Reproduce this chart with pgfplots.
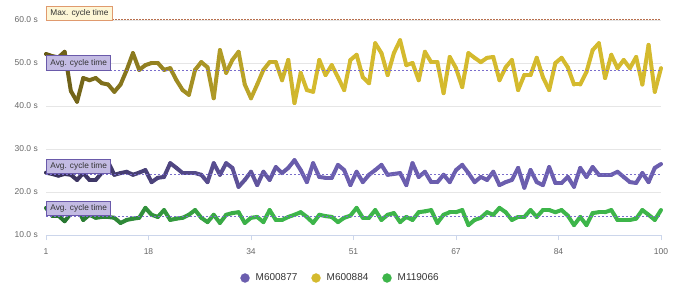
\documentclass[border=0pt]{standalone}
\usepackage{fontspec}
\setmainfont{Liberation Sans}
\usepackage{pgfplots}
\usepackage{pgfplotstable}
\pgfplotsset{compat=1.18}
\definecolor{pcol}{HTML}{6B5EAE}
\definecolor{ycol}{HTML}{D4BA2E}
\definecolor{gcol}{HTML}{3DB54A}
\definecolor{gridc}{HTML}{E6E6E6}
\definecolor{axisc}{HTML}{CCD6EB}
\definecolor{labc}{HTML}{666666}
\definecolor{txtc}{HTML}{333333}
\definecolor{avgline}{HTML}{7A6DCB}
\definecolor{maxline}{HTML}{B8704F}
\definecolor{avgfill}{HTML}{C3BBE3}
\definecolor{avgborder}{HTML}{6A5AAA}
\definecolor{maxfill}{HTML}{FDF6D6}
\definecolor{maxborder}{HTML}{E09A6E}
\pgfplotsset{
  colormap={pmap}{color(0cm)=(pcol!50!black) color(4.2cm)=(pcol) color(10cm)=(pcol)},
  colormap={ymap}{color(0cm)=(ycol!48!black) color(4.2cm)=(ycol) color(10cm)=(ycol)},
  colormap={gmap}{color(0cm)=(gcol!62!black) color(3.5cm)=(gcol) color(10cm)=(gcol)},
}
\pgfplotstableread{
idx p y g
1 24.5 52.1 16.3
2 24.2 51.6 14.5
3 23.8 51.3 14.5
4 24.2 52.6 13.2
5 24.0 43.5 15.0
6 22.8 41.0 16.3
7 24.4 46.5 13.5
8 22.8 46.0 14.7
9 22.8 46.5 14.0
10 24.5 45.3 14.2
11 27.0 45.0 14.2
12 24.0 43.3 14.0
13 24.4 45.0 12.8
14 24.7 48.4 13.5
15 24.0 52.3 13.8
16 24.5 48.4 14.0
17 25.1 49.5 16.3
18 22.3 50.0 14.7
19 23.3 50.0 14.2
20 23.5 48.4 15.8
21 26.7 48.8 13.5
22 25.6 46.0 13.8
23 24.4 43.7 14.0
24 24.4 42.6 14.7
25 24.4 48.4 15.8
26 24.0 50.2 14.0
27 22.3 49.0 13.0
28 26.7 41.8 14.7
29 24.0 53.0 12.8
30 26.7 47.7 14.7
31 25.6 50.7 15.1
32 21.2 52.6 15.3
33 22.8 45.0 12.8
34 24.7 41.8 14.0
35 21.6 45.0 14.2
36 24.7 48.4 13.0
37 22.8 50.2 15.8
38 25.8 50.2 13.5
39 24.4 46.0 13.5
40 25.6 50.7 14.2
41 27.4 40.7 14.7
42 25.1 47.7 15.3
43 22.3 43.7 14.2
44 26.7 43.3 12.8
45 23.5 50.7 14.7
46 23.3 47.2 14.4
47 23.3 49.5 14.2
48 26.3 46.7 13.0
49 25.1 43.7 14.0
50 21.6 50.7 14.5
51 24.7 51.9 16.3
52 22.3 46.7 14.0
53 24.0 45.3 14.0
54 25.1 54.6 15.8
55 26.3 52.3 13.5
56 24.0 47.2 14.7
57 24.2 52.3 15.1
58 24.4 55.3 13.0
59 21.6 49.5 14.2
60 26.7 50.0 13.5
61 23.5 46.0 15.3
62 24.7 52.6 15.5
63 22.3 50.2 15.8
64 22.3 50.2 12.8
65 24.0 43.0 14.7
66 22.3 51.4 15.3
67 25.1 48.8 15.3
68 26.3 44.4 15.8
69 24.4 52.3 12.3
70 22.3 51.2 13.5
71 23.5 50.2 14.0
72 22.8 51.2 15.3
73 24.7 51.4 14.7
74 21.6 46.0 16.3
75 22.3 49.0 15.3
76 22.8 50.7 13.5
77 25.6 43.7 14.2
78 21.0 47.2 14.2
79 25.1 47.2 15.8
80 22.3 51.2 14.2
81 21.6 46.7 15.8
82 25.8 43.7 15.8
83 22.1 50.0 15.3
84 22.1 51.2 15.8
85 23.5 49.0 14.5
86 21.2 45.0 12.3
87 25.6 45.0 14.2
88 23.5 47.9 12.3
89 25.8 53.0 15.1
90 24.0 54.6 15.3
91 24.0 46.5 15.3
92 24.0 51.9 15.8
93 24.7 48.8 13.5
94 23.5 50.7 13.5
95 22.3 48.8 13.5
96 22.1 51.4 13.8
97 24.4 45.0 15.8
98 22.3 54.2 14.7
99 25.6 43.3 13.5
100 26.5 48.8 15.8
}\data
\begin{document}
\begin{tikzpicture}
\useasboundingbox (0pt,0pt) rectangle (681pt,287pt);
\begin{axis}[
  at={(46pt,52pt)}, anchor=south west,
  scale only axis, width=615pt, height=235pt,
  xmin=1, xmax=100, ymin=10, ymax=64.65,
  clip=false,
  axis x line*=bottom, axis y line*=left,
  x axis line style={draw=axisc, line width=0.8pt},
  y axis line style={draw=none},
  xtick={1,17.5,34,50.5,67,83.5,100},
  xticklabels={1,18,34,51,67,84,100},
  ytick={10,20,30,40,50,60},
  yticklabel={\pgfmathprintnumber[fixed,fixed zerofill,precision=1]{\tick} s},
  /pgf/number format/assume math mode=true,
  tick align=outside, major tick length=5pt,
  xtick style={draw=axisc, line width=0.8pt},
  ytick style={draw=none},
  ymajorgrids, grid style={draw=gridc, line width=0.8pt},
  ticklabel style={font=\fontsize{8.5}{10}\selectfont, text=labc},
  yticklabel style={anchor=east, inner sep=0pt, xshift=-3pt},
  xticklabel style={anchor=north, inner sep=0pt, yshift=-8pt},
  point meta min=1, point meta max=100,
  legend columns=3,
  legend style={at={(axis description cs:0.4789,-0.183)}, anchor=center, draw=none, fill=none,
    font=\fontsize{10}{12}\selectfont, text=txtc, inner sep=0pt,
    /tikz/every odd column/.append style={column sep=4pt},
    /tikz/every even column/.append style={column sep=12pt}},
  legend cell align=left,
  legend image code/.code={\draw[#1, line width=0.1pt, fill] (4.5pt,0pt) circle[radius=4.6pt];},
]
\addplot[mesh, point meta=x, colormap name=ymap, line width=4pt, line cap=round, line join=round, forget plot] table[x=idx,y=y] {\data};
\addplot[mesh, point meta=x, colormap name=pmap, line width=4pt, line cap=round, line join=round, forget plot] table[x=idx,y=p] {\data};
\addplot[mesh, point meta=x, colormap name=gmap, line width=4pt, line cap=round, line join=round, forget plot] table[x=idx,y=g] {\data};
\addplot[maxline, line width=1pt, dash pattern=on 1.5pt off 1.5pt, forget plot] coordinates {(1,60) (100,60)};
\addplot[avgline, line width=1pt, dash pattern=on 2pt off 2pt, forget plot] coordinates {(1,48.26) (100,48.26)};
\addplot[avgline, line width=1pt, dash pattern=on 2pt off 2pt, forget plot] coordinates {(1,24.1) (100,24.1)};
\addplot[avgline, line width=1pt, dash pattern=on 2pt off 2pt, forget plot] coordinates {(1,14.4) (100,14.4)};
\addlegendimage{pcol, solid}\addlegendentry{M600877}
\addlegendimage{ycol, solid}\addlegendentry{M600884}
\addlegendimage{gcol, solid}\addlegendentry{M119066}
\tikzset{lbl/.style={anchor=south west, line width=0.9pt, font=\fontsize{8.3}{10}\selectfont, text=txtc, inner xsep=4pt, inner ysep=3.2pt, text height=6.2pt, text depth=1.8pt}}
\node[lbl, draw=maxborder, fill=maxfill, yshift=-1pt] at (axis cs:1,60) {Max. cycle time};
\node[lbl, draw=avgborder, fill=avgfill] at (axis cs:1,48.26) {Avg. cycle time};
\node[lbl, draw=avgborder, fill=avgfill] at (axis cs:1,24.1) {Avg. cycle time};
\node[lbl, draw=avgborder, fill=avgfill] at (axis cs:1,14.4) {Avg. cycle time};
\end{axis}
\end{tikzpicture}
\end{document}
